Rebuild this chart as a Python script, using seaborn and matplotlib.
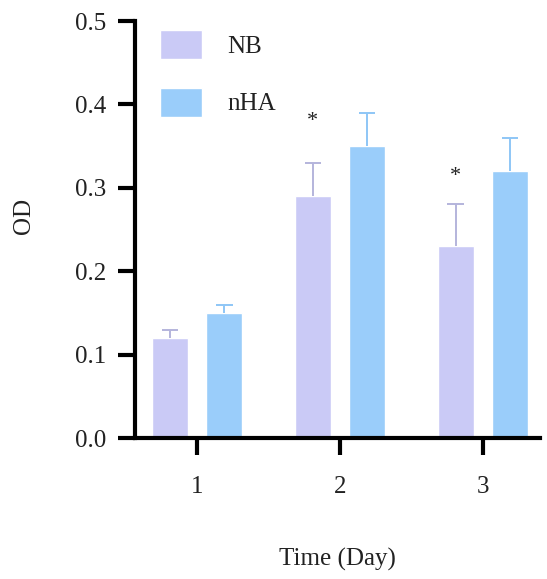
import matplotlib
matplotlib.use("Agg")
import matplotlib.pyplot as plt
import seaborn as sns
import pandas as pd
import numpy as np

days = ["1", "2", "3"]
groups = ["NB", "nHA"]
nb_mean = [0.12, 0.29, 0.23]
nb_err = [0.01, 0.04, 0.05]
nha_mean = [0.15, 0.35, 0.32]
nha_err = [0.01, 0.04, 0.04]
stars = ["", "*", "*"]
star_y = [None, 0.38, 0.313]

colors = {"NB": "#CACAF6", "nHA": "#9ACDFA"}
err_colors = {"NB": "#B4B4DC", "nHA": "#8EC6F6"}

df = pd.DataFrame({
    "Day": days * 2,
    "Group": ["NB"] * 3 + ["nHA"] * 3,
    "OD": nb_mean + nha_mean,
    "err": nb_err + nha_err,
})

sns.set_style("white")
plt.rcParams["font.family"] = ["Liberation Serif", "DejaVu Serif"]

fig = plt.figure(figsize=(5.47, 5.79), dpi=100)
ax = fig.add_axes([0.247, 0.2435, 0.74, 0.7202])

sns.barplot(data=df, x="Day", y="OD", hue="Group", order=days, hue_order=groups,
            palette=colors, width=0.76, gap=0.34, errorbar=None, ax=ax,
            saturation=1, legend=True)

errs = {"NB": nb_err, "nHA": nha_err}
means = {"NB": nb_mean, "nHA": nha_mean}
cap_half = 0.058
for container, g in zip(ax.containers, groups):
    for i, patch in enumerate(container.patches):
        xc = patch.get_x() + patch.get_width() / 2
        top = means[g][i] + errs[g][i]
        ax.vlines(xc, means[g][i], top, colors=err_colors[g], linewidth=1.4, zorder=1)
        ax.hlines(top, xc - cap_half, xc + cap_half, colors=err_colors[g],
                  linewidth=1.4, zorder=1)
        if g == "NB" and stars[i]:
            ax.text(xc, star_y[i], stars[i], ha="center", va="center",
                    fontsize=16, color="#222222")

ax.set_xlim(-0.434, 2.40)
ax.set_ylim(0, 0.5)
ax.set_yticks([0.0, 0.1, 0.2, 0.3, 0.4, 0.5])
ax.set_yticklabels(["0.0", "0.1", "0.2", "0.3", "0.4", "0.5"])
for s in ["top", "right"]:
    ax.spines[s].set_visible(False)
for s in ["left", "bottom"]:
    ax.spines[s].set_linewidth(3)
    ax.spines[s].set_color("black")
ax.tick_params(axis="both", which="major", direction="out", length=12, width=3,
               labelsize=18, color="black", labelcolor="#222222", left=True, bottom=True)
ax.tick_params(axis="y", pad=9)
ax.tick_params(axis="x", pad=15)
ax.set_ylabel("OD", fontsize=18, color="#222222")
ax.set_xlabel("Time (Day)", fontsize=18, color="#222222")
ax.yaxis.set_label_coords(-0.247, 0.532)
ax.xaxis.set_label_coords(0.5, -0.264)

leg = ax.legend(loc="upper left", bbox_to_anchor=(0.037, 1.003), frameon=False,
                fontsize=18, handlelength=1.68, handleheight=1.4,
                handletextpad=1.0, labelspacing=1.16, borderaxespad=0)
for t in leg.get_texts():
    t.set_color("#222222")

fig.savefig("out.png", dpi=100)
